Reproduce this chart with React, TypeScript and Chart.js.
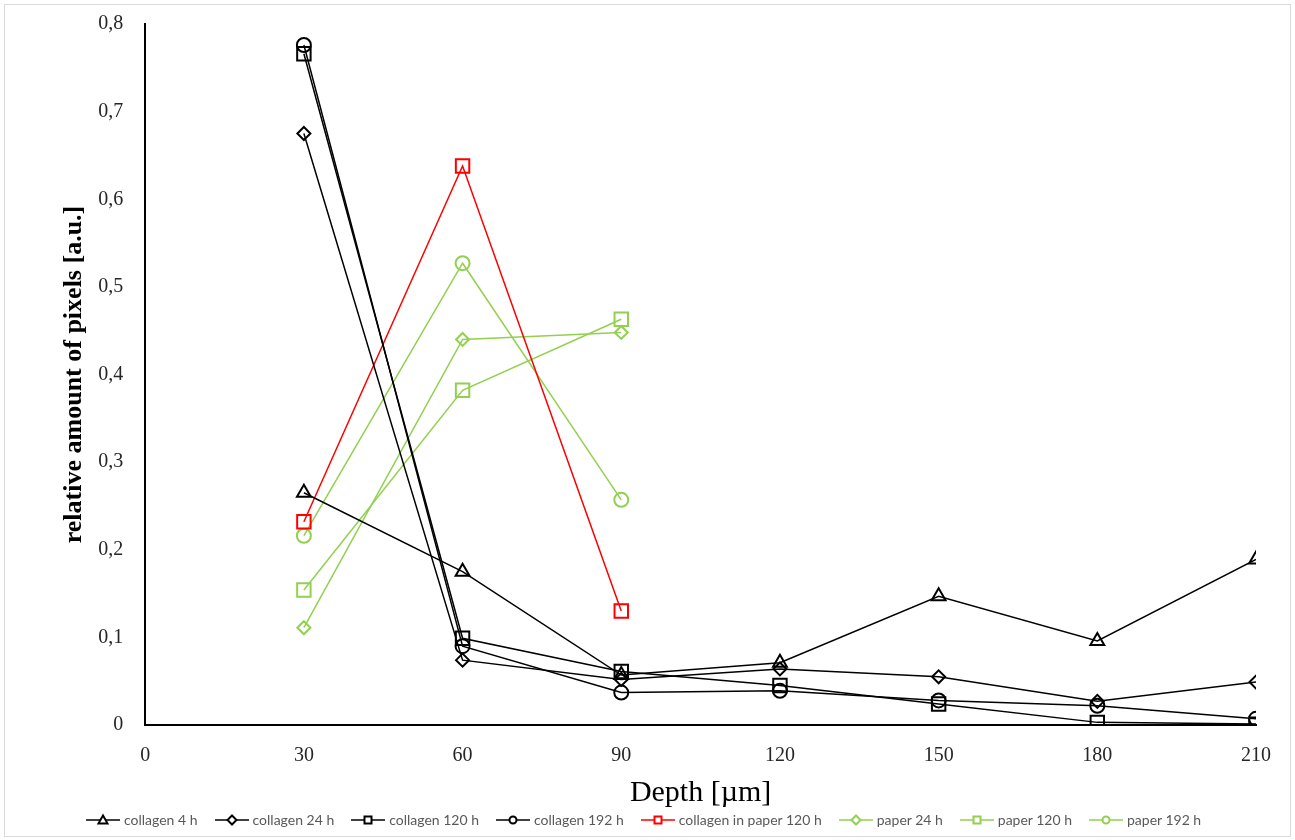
import React, { useEffect, useRef } from "react";
import { Chart, registerables } from "chart.js";

Chart.register(...registerables);

const depths = [30, 60, 90, 120, 150, 180, 210];
const depthsShort = [30, 60, 90];

const collagen4h = [0.265, 0.175, 0.057, 0.071, 0.147, 0.096, 0.189];
const collagen24h = [0.675, 0.074, 0.052, 0.064, 0.055, 0.027, 0.049];
const collagen120h = [0.766, 0.099, 0.061, 0.045, 0.024, 0.003, 0.001];
const collagen192h = [0.776, 0.090, 0.037, 0.039, 0.028, 0.022, 0.007];
const collagenInPaper120h = [0.232, 0.638, 0.130];
const paper24h = [0.111, 0.440, 0.448];
const paper120h = [0.154, 0.382, 0.463];
const paper192h = [0.216, 0.527, 0.257];

const seriesLabels = [
  "collagen 4 h",
  "collagen 24 h",
  "collagen 120 h",
  "collagen 192 h",
  "collagen in paper 120 h",
  "paper 24 h",
  "paper 120 h",
  "paper 192 h",
];

const BLACK = "#000000";
const RED = "#FF0000";
const GREEN = "#92D050";

const SERIF = "'Liberation Serif', 'Times New Roman', serif";

const defs = [
  { xs: depths, ys: collagen4h, color: BLACK, style: "triangle", r: 8 },
  { xs: depths, ys: collagen24h, color: BLACK, style: "rectRot", r: 6.5 },
  { xs: depths, ys: collagen120h, color: BLACK, style: "rect", r: 9.5 },
  { xs: depths, ys: collagen192h, color: BLACK, style: "circle", r: 7 },
  { xs: depthsShort, ys: collagenInPaper120h, color: RED, style: "rect", r: 9.5 },
  { xs: depthsShort, ys: paper24h, color: GREEN, style: "rectRot", r: 6.5 },
  { xs: depthsShort, ys: paper120h, color: GREEN, style: "rect", r: 9.5 },
  { xs: depthsShort, ys: paper192h, color: GREEN, style: "circle", r: 7 },
];

function LegendMarker({ color, style }: { color: string; style: string }) {
  const W = 34;
  const cx = W / 2, cy = 7, r = 4.5;
  let shape: React.ReactNode;
  if (style === "triangle") {
    shape = (
      <polygon
        points={`${cx},${cy - r} ${cx + r},${cy + r * 0.75} ${cx - r},${cy + r * 0.75}`}
        fill="#fff"
        stroke={color}
        strokeWidth={2}
      />
    );
  } else if (style === "rectRot") {
    shape = (
      <polygon
        points={`${cx},${cy - r} ${cx + r},${cy} ${cx},${cy + r} ${cx - r},${cy}`}
        fill="#fff"
        stroke={color}
        strokeWidth={2}
      />
    );
  } else if (style === "rect") {
    shape = <rect x={cx - 3.5} y={cy - 3.5} width={7} height={7} fill="#fff" stroke={color} strokeWidth={2} />;
  } else {
    shape = <circle cx={cx} cy={cy} r={3.5} fill="#fff" stroke={color} strokeWidth={2} />;
  }
  return (
    <svg width={W} height={14} style={{ display: "block" }}>
      <line x1={0} y1={cy} x2={W} y2={cy} stroke={color} strokeWidth={1.5} />
      {shape}
    </svg>
  );
}

export default function App() {
  const ref = useRef<HTMLCanvasElement | null>(null);

  useEffect(() => {
    if (!ref.current) return;
    const chart = new Chart(ref.current, {
      type: "line",
      data: {
        datasets: defs.map((d, i) => ({
          label: seriesLabels[i],
          data: d.xs.map((x, j) => ({ x, y: d.ys[j] })),
          borderColor: d.color,
          backgroundColor: "rgba(0,0,0,0)",
          borderWidth: 1.5,
          pointStyle: d.style as any,
          pointRadius: d.r,
          pointBorderWidth: 2,
          pointBorderColor: d.color,
          pointBackgroundColor: "rgba(0,0,0,0)",
          tension: 0,
          fill: false,
        })),
      },
      options: {
        animation: false,
        responsive: true,
        maintainAspectRatio: false,
        layout: { padding: { left: 50, top: 5, right: 30, bottom: 25 } },
        scales: {
          x: {
            type: "linear",
            min: 0,
            max: 210,
            grid: { display: false, drawTicks: false },
            border: { display: true, color: "#000", width: 2 },
            ticks: {
              stepSize: 30,
              padding: 19,
              color: "#262626",
              font: { family: SERIF, size: 20 },
            },
            title: {
              display: true,
              text: "Depth [µm]",
              color: "#000",
              padding: { top: -12, bottom: 0 },
              font: { family: SERIF, size: 30 },
            },
          },
          y: {
            min: 0,
            max: 0.8,
            grid: { display: false, drawTicks: false },
            border: { display: true, color: "#000", width: 2 },
            afterFit: (s: any) => {
              s.paddingTop = 19;
            },
            ticks: {
              stepSize: 0.1,
              padding: 22,
              color: "#262626",
              font: { family: SERIF, size: 20 },
              callback: (v: any) => {
                const n = Math.round(Number(v) * 10) / 10;
                return n === 0 ? "0" : n.toFixed(1).replace(".", ",");
              },
            },
            title: {
              display: true,
              text: "relative amount of pixels [a.u.]",
              color: "#000",
              padding: { top: 4, bottom: -14 },
              font: { family: SERIF, size: 26, weight: "bold" },
            },
          },
        },
        plugins: {
          tooltip: { enabled: false },
          legend: { display: false },
        },
      },
    });
    return () => chart.destroy();
  }, []);

  return (
    <div
      style={{
        position: "absolute",
        left: 4,
        top: 4,
        width: 1287,
        height: 833,
        border: "1px solid #d9d9d9",
        background: "#fff",
        boxSizing: "border-box",
      }}
    >
      <canvas ref={ref} />
      <div
        style={{
          position: "absolute",
          left: 81,
          top: 806,
          display: "flex",
          alignItems: "center",
          fontFamily: "Lato, 'Noto Sans', sans-serif",
          fontSize: 14,
          color: "#595959",
          whiteSpace: "nowrap",
        }}
      >
        {defs.map((d, i) => (
          <div key={i} style={{ display: "flex", alignItems: "center", marginRight: 17 }}>
            <LegendMarker color={d.color} style={d.style} />
            <span style={{ marginLeft: 4 }}>{seriesLabels[i]}</span>
          </div>
        ))}
      </div>
    </div>
  );
}
